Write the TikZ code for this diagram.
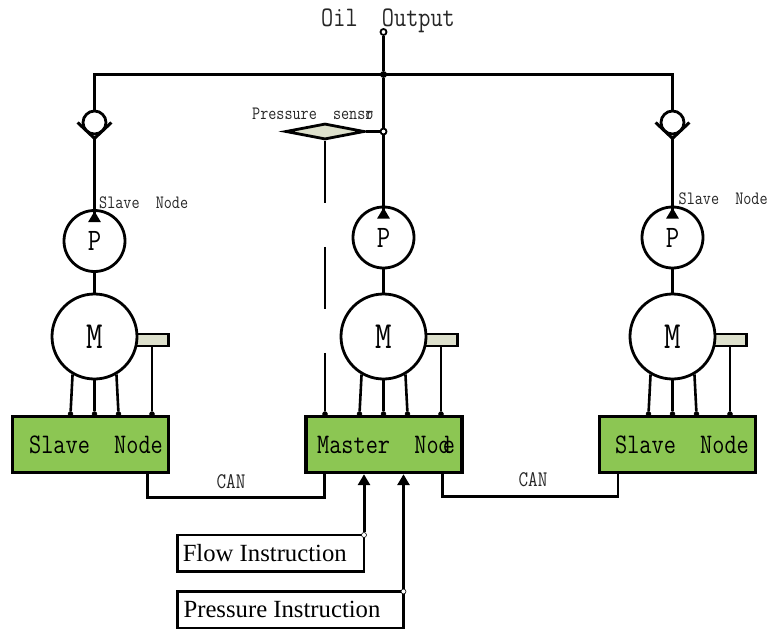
\documentclass[tikz,border=0pt]{standalone}
\usepackage{graphicx}
\usepackage{fontspec}
\newfontfamily\instrfont{Liberation Serif}
\newcommand{\tall}[1]{\scalebox{1}[1.2]{#1}}
\usetikzlibrary{shapes.geometric, arrows.meta}

\begin{document}
\begin{tikzpicture}[
			x=1pt, y=-1pt,
			node distance=289pt,
			pipe/.style={draw, line width=3pt},
			wire/.style={draw, line width=2.6pt},
			flowline/.style={pipe, -{Triangle[width=12pt, length=11pt]}},
			pumpline/.style={pipe, -{Triangle[reversed, width=12pt, length=11pt]}},
			base/.style={draw, line width=2.8pt, inner sep=0pt},
			pump/.style={base, circle, fill=white, minimum size=61pt, font=\ttfamily\fontsize{26pt}{26pt}\selectfont},
			motor/.style={base, circle, fill=white, minimum size=85pt, font=\ttfamily\fontsize{32pt}{32pt}\selectfont},
			valve/.style={base, circle, fill=white, minimum size=23pt},
			encoder/.style={base, fill=sensorgray, minimum width=38pt, minimum height=12pt},
			sensor/.style={base, diamond, fill=sensorgray, minimum width=79pt, minimum height=16pt},
			controller/.style={base, line width=3.4pt, fill=nodegreen, minimum width=156pt, minimum height=56pt, font=\ttfamily\fontsize{23.6pt}{24pt}\selectfont},
			instruction/.style={base, fill=white, anchor=north west, outer sep=0pt, font=\instrfont\fontsize{24.7pt}{25pt}\selectfont},
			pin/.style={draw, fill=black, circle, inner sep=0pt, minimum size=5pt},
			joint/.style={draw, line width=1.8pt, fill=white, circle, inner sep=0pt, minimum size=6pt},
			port/.style={draw, line width=.6pt, fill=white, circle, inner sep=0pt, minimum size=5pt},
			bigtext/.style={font=\ttfamily\fontsize{23.6pt}{24pt}\selectfont, text=black!85, inner sep=0pt},
			smalltext/.style={font=\ttfamily\fontsize{15.7pt}{16pt}\selectfont, text=black!85, inner sep=0pt},
			cantext/.style={font=\ttfamily\fontsize{18.6pt}{19pt}\selectfont, text=black!85, inner sep=0pt},
		]
		\definecolor{sensorgray}{HTML}{DDE0CC}
		\definecolor{nodegreen}{HTML}{8CC653}
		\useasboundingbox (0,0) rectangle (769,629);

		\node[pin] (pinla) at (70.5,414) {};
		\node[pin, right of=pinla] (pinma) {};
		\node[pin, right of=pinma] (pinra) {};
		\node[pin] (pinlb) at (94.5,414) {};
		\node[pin, right of=pinlb] (pinmb) {};
		\node[pin, right of=pinmb] (pinrb) {};
		\node[pin] (pinlc) at (118.5,414) {};
		\node[pin, right of=pinlc] (pinmc) {};
		\node[pin, right of=pinmc] (pinrc) {};
		\node[pin] (pinld) at (152,414) {};
		\node[pin, right of=pinld] (pinmd) {};
		\node[pin, right of=pinmd] (pinrd) {};
		\node[pin] (pinfeed) at (325,414) {};

		\node[encoder] (encl) at (149.5,340) {};
		\node[encoder, right of=encl] (encm) {};
		\node[encoder, right of=encm] (encr) {};

		\node[motor] (motorl) at (94.5,336.5) {\tall{M}};
		\node[motor, right of=motorl] (motorm) {\tall{M}};
		\node[motor, right of=motorm] (motorr) {\tall{M}};
		\node[pump] (pumpl) at (94.5,241) {\tall{P}};
		\node[pump] (pumpm) at (383.5,237.5) {\tall{P}};
		\node[pump] (pumpr) at (672.5,237.5) {\tall{P}};
		\node[valve] (valvel) at (94.5,122.5) {};
		\node[valve, right of=valvel, xshift=289pt] (valver) {};

		\node[controller] (boxl) at (90.5,444.5) {\hspace*{11pt}\tall{Slave\ \ Node}};
		\node[controller] (boxm) at (384,444.5) {\tall{Master\ \ Nod\makebox[0pt][l]{\hspace*{-8pt}e}}};
		\node[controller] (boxr) at (677.5,444.5) {\hspace*{9pt}\tall{Slave\ \ Node}};

		\node[sensor] (sensor) at (325,131.5) {};
		\node[joint] (outlet) at (383.5,32) {};
		\node[joint, fill=black, minimum size=5pt] (junction) at (383.5,74.5) {};
		\node[joint] (tap) at (383.5,131.5) {};
		\coordinate (busl) at (94.5,74.5);
		\coordinate (busr) at (672.5,74.5);

		\node[instruction, minimum width=186.5pt, minimum height=36.5pt] (flow) at (177.5,535) {Flow Instruction\hspace*{12pt}};
		\node[instruction, minimum width=226pt, minimum height=36.5pt] (pressure) at (177.5,591.5) {Pressure Instruction\hspace*{17pt}};

		\draw[pipe] (outlet) -- (junction);
		\draw[pipe] (valvel.north) -- (busl) -- (busr) -- (valver.north);
		\draw[pipe] (junction) -- (tap);
		\draw[pipe] (sensor.east) -- (tap);
		\draw[pipe] ([xshift=-4pt]valvel.west) -- ([yshift=-3pt]valvel.south) -- ([xshift=4pt]valvel.east);
		\draw[pipe] ([xshift=-4pt]valver.west) -- ([yshift=-3pt]valver.south) -- ([xshift=4pt]valver.east);
		\draw[pumpline] ([yshift=-3pt]valvel.south) -- ([yshift=-13pt]pumpl.north);
		\draw[pumpline] (tap) -- ([yshift=-13pt]pumpm.north);
		\draw[pumpline] ([yshift=-3pt]valver.south) -- ([yshift=-13pt]pumpr.north);
		\draw[wire] (pumpl) -- (motorl);
		\draw[wire] (pumpm) -- (motorm);
		\draw[wire] (pumpr) -- (motorr);

		\draw[wire] (motorl.240) -- (pinla);
		\draw[wire] (motorl.south) -- (pinlb);
		\draw[wire] (motorl.300) -- (pinlc);
		\draw[wire] (encl.south -| pinld) -- (pinld);
		\draw[wire] (motorm.240) -- (pinma);
		\draw[wire] (motorm.south) -- (pinmb);
		\draw[wire] (motorm.300) -- (pinmc);
		\draw[wire] (encm.south -| pinmd) -- (pinmd);
		\draw[wire] (motorr.240) -- (pinra);
		\draw[wire] (motorr.south) -- (pinrb);
		\draw[wire] (motorr.300) -- (pinrc);
		\draw[wire] (encr.south -| pinrd) -- (pinrd);
		\draw[wire, dash pattern=on 62pt off 44pt] (sensor.south) -- (pinfeed);

		\draw[wire] ([xshift=-23pt]boxl.south east) -- ++(0,23) -| ([xshift=20pt]boxm.south west);
		\draw[wire] ([xshift=-21pt]boxm.south east) -- ++(0,22) -| ([xshift=20pt]boxr.south west);

		\node[port] (flowport) at (flow.north east) {};
		\node[port] (pressureport) at (pressure.north east) {};
		\draw[flowline] (flowport) -- (flowport |- boxm.south);
		\draw[flowline] (pressureport) -- (pressureport |- boxm.south);

		\node[bigtext, anchor=west] (oil) at (321,21) {\tall{Oil\ \ Output}};
		\node[smalltext, anchor=west] (labell) at (99,203) {\tall{Slave\ \ Node}};
		\node[smalltext, anchor=west] (labelr) at (678.5,199) {\tall{Slave\ \ Node}};
		\node[smalltext, anchor=west] (labelp) at (252,114) {\tall{Pressure\ \ sens\makebox[0pt][l]{o}r}};
		\node[cantext] (canl) at (231,482) {\tall{CAN}};
		\node[cantext] (canr) at (533,480) {\tall{CAN}};
		\end{tikzpicture}
\end{document}
